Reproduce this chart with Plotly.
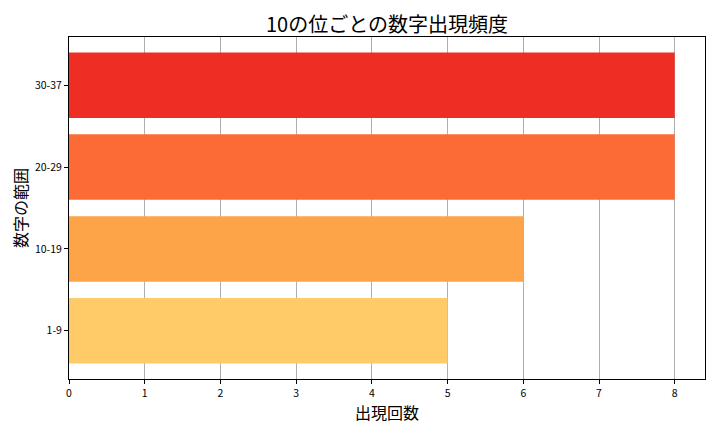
import plotly.graph_objects as go

categories = ["1-9", "10-19", "20-29", "30-37"]
counts = [5, 6, 8, 8]
colors = ["#FECB68", "#FDA348", "#FC6B35", "#EE2E24"]
x_ticks = [0, 1, 2, 3, 4, 5, 6, 7, 8]

FONT = "Noto Sans CJK JP"

fig = go.Figure(go.Bar(
    y=categories, x=counts, orientation="h",
    marker=dict(color=colors, line=dict(width=0)),
    width=0.8,
))

fig.update_layout(
    width=720, height=432,
    margin=dict(l=61, r=23, t=29, b=61),
    plot_bgcolor="white", paper_bgcolor="white",
    font=dict(family=FONT, color="black", size=10),
    title=dict(text="10の位ごとの数字出現頻度", x=(61 + (720 - 23 - 61) / 2) / 720,
               xanchor="center", y=1 - 17 / 432, yanchor="middle",
               font=dict(size=20, family=FONT)),
    showlegend=False,
    bargap=0.2,
)
fig.update_xaxes(
    range=[0, 8.4], tickvals=x_ticks, ticktext=[str(v) for v in x_ticks],
    showgrid=True, gridcolor="#b0b0b0", gridwidth=1,
    showline=True, linecolor="black", linewidth=1, mirror=True,
    ticks="outside", ticklen=4, tickcolor="black",
    zeroline=False, layer="above traces", automargin=False,
    title=dict(text="出現回数", font=dict(size=16, family=FONT), standoff=6),
    tickfont=dict(size=10.5),
)
fig.update_yaxes(
    range=[-0.59, 3.59], type="category",
    categoryorder="array", categoryarray=categories,
    showgrid=False, automargin=False,
    showline=True, linecolor="black", linewidth=1, mirror=True,
    ticks="outside", ticklen=4, tickcolor="black",
    title=dict(text="数字の範囲", font=dict(size=16, family=FONT), standoff=9),
    tickfont=dict(size=10.5),
)

fig.write_html("out.html")
